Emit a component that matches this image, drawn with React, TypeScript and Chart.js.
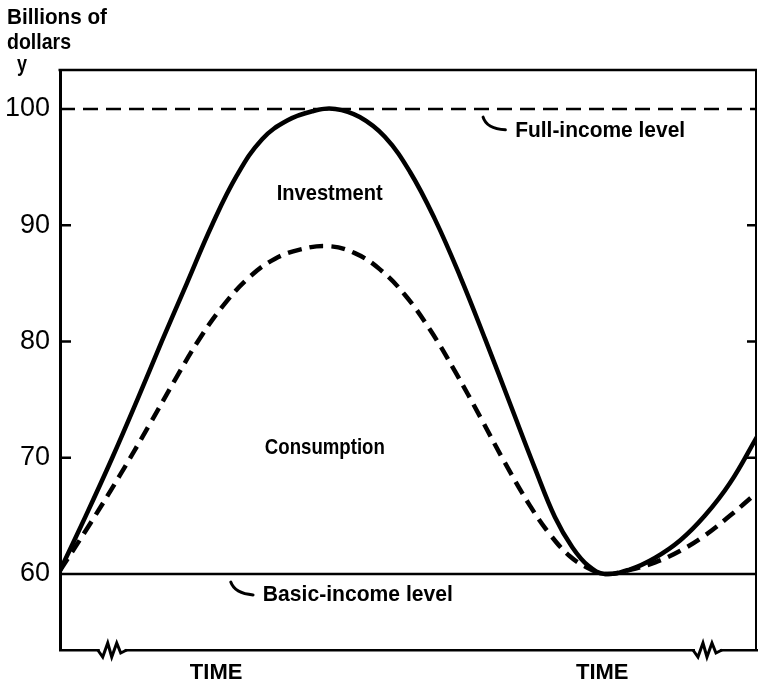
import React, { useEffect, useRef } from 'react';
import { Chart, registerables } from 'chart.js';

Chart.register(...registerables);

// ---- data ----
const incomeTime = [0, 3.7, 7.5, 11.1, 14.6, 18.2, 21.8, 25.4, 29.0, 32.6, 36.2, 39.5, 43.0, 46.6, 50.2, 53.8, 57.4, 61.0, 64.6, 68.2, 71.0, 73.5, 75.8, 78.2, 81.8, 85.4, 89.0, 92.5, 96.1, 100];
const incomeValues = [60.3, 65.0, 70.0, 75.0, 80.0, 85.0, 90.0, 94.3, 97.4, 99.0, 99.8, 100.0, 99.3, 97.6, 94.6, 90.5, 85.6, 80.2, 74.6, 69.0, 64.9, 62.3, 60.7, 60.0, 60.4, 61.4, 62.9, 65.0, 67.8, 71.8];

const consumptionTime = [0, 4.3, 8.6, 12.9, 16.5, 20.1, 23.7, 27.3, 30.8, 34.4, 38.5, 42.3, 45.9, 49.5, 53.1, 56.7, 60.3, 63.8, 67.4, 70.3, 73.2, 75.8, 78.2, 81.8, 85.4, 89.0, 92.5, 96.1, 100];
const consumptionValues = [60.3, 64.3, 68.5, 72.9, 76.7, 80.3, 83.3, 85.6, 87.1, 87.9, 88.2, 87.6, 86.2, 84.0, 81.0, 77.4, 73.5, 69.6, 65.9, 63.4, 61.5, 60.5, 60.0, 60.35, 61.0, 62.0, 63.3, 65.0, 67.0];

const yTickValues = [60, 70, 80, 90, 100];
const timeTickValues = [22.4, 77.8];
const timeTickLabel = 'TIME';
const fullIncomeLevel = 100;
const basicIncomeLevel = 60;
const timeMin = 0;
const timeMax = 100;
const yMin = 53.46;
const yMax = 103.35;
const breakTimes = [5.7, 91.1];

const FONT = '"Liberation Sans", Arial, sans-serif';

function fitText(ctx: CanvasRenderingContext2D, text: string, x: number, y: number, width: number, size: number, align: CanvasTextAlign, baseline: CanvasTextBaseline) {
  ctx.save();
  ctx.font = `bold ${size}px ${FONT}`;
  const w = ctx.measureText(text).width;
  const s = width / w;
  ctx.translate(x, y);
  ctx.scale(s, 1);
  ctx.textAlign = align;
  ctx.textBaseline = baseline;
  ctx.fillStyle = '#000';
  ctx.fillText(text, 0, 0);
  ctx.restore();
}

export default function App() {
  const ref = useRef<HTMLCanvasElement>(null);

  useEffect(() => {
    if (!ref.current) return;

    const decor = {
      id: 'decor',
      afterDraw(chart: any) {
        const { ctx, chartArea, scales } = chart;
        const { left, right, top, bottom } = chartArea;
        const x = scales.x;
        const y = scales.y;
        ctx.save();
        ctx.strokeStyle = '#000';
        ctx.lineCap = 'butt';

        // top border
        ctx.lineWidth = 2.5;
        ctx.beginPath();
        ctx.moveTo(left - 1.5, top);
        ctx.lineTo(right, top);
        ctx.stroke();
        // right border
        ctx.lineWidth = 2;
        ctx.beginPath();
        ctx.moveTo(right - 1, top);
        ctx.lineTo(right - 1, bottom);
        ctx.stroke();

        // inward ticks
        ctx.lineWidth = 2.5;
        [70, 80, 90].forEach((v) => {
          const py = y.getPixelForValue(v);
          ctx.beginPath();
          ctx.moveTo(left, py);
          ctx.lineTo(left + 11, py);
          ctx.moveTo(right - 1, py);
          ctx.lineTo(right - 10, py);
          ctx.stroke();
        });

        // axis breaks
        breakTimes.forEach((t) => {
          const px = x.getPixelForValue(t);
          ctx.fillStyle = '#fff';
          ctx.fillRect(px, bottom - 2, 25, 4);
          ctx.lineWidth = 3;
          ctx.lineJoin = 'miter';
          ctx.beginPath();
          ctx.moveTo(px - 2, bottom);
          ctx.lineTo(px + 3, bottom + 7);
          ctx.lineTo(px + 8, bottom - 7);
          ctx.lineTo(px + 12, bottom + 7);
          ctx.lineTo(px + 17, bottom - 7);
          ctx.lineTo(px + 21, bottom + 3);
          ctx.lineTo(px + 27, bottom);
          ctx.stroke();
        });

        // hooks
        ctx.lineWidth = 3;
        ctx.lineCap = 'round';
        const hook = (t0: number, v0: number, tc: number, vc: number, t1: number, v1: number) => {
          ctx.beginPath();
          ctx.moveTo(x.getPixelForValue(t0), y.getPixelForValue(v0));
          ctx.quadraticCurveTo(x.getPixelForValue(tc), y.getPixelForValue(vc), x.getPixelForValue(t1), y.getPixelForValue(v1));
          ctx.stroke();
        };
        hook(60.7, 99.3, 61.2, 98.3, 63.9, 98.2);
        hook(24.5, 59.3, 25.1, 58.3, 27.7, 58.2);

        // labels in chart
        fitText(ctx, 'Investment', x.getPixelForValue(38.7), y.getPixelForValue(92.7), 106, 22, 'center', 'middle');
        fitText(ctx, 'Consumption', x.getPixelForValue(38.0), y.getPixelForValue(70.8), 120, 22, 'center', 'middle');
        fitText(ctx, 'Full-income level', x.getPixelForValue(65.3), y.getPixelForValue(98.1), 170, 22, 'left', 'middle');
        fitText(ctx, 'Basic-income level', x.getPixelForValue(29.1), y.getPixelForValue(58.2), 190, 22, 'left', 'middle');

        // axis title
        fitText(ctx, 'Billions of', 7, 24, 100, 22, 'left', 'alphabetic');
        fitText(ctx, 'dollars', 7, 49, 64, 22, 'left', 'alphabetic');
        fitText(ctx, 'y', 17, 71, 10, 22, 'left', 'alphabetic');
        ctx.restore();
      },
    };

    const toPoints = (xs: number[], ys: number[]) => xs.map((t, i) => ({ x: t, y: ys[i] }));

    const chart = new Chart(ref.current, {
      type: 'line',
      data: {
        datasets: [
          {
            label: 'Full-income level',
            data: [{ x: timeMin, y: fullIncomeLevel }, { x: timeMax, y: fullIncomeLevel }],
            borderColor: '#000',
            borderWidth: 2.5,
            borderDash: [15, 8],
            pointRadius: 0,
            fill: false,
          },
          {
            label: 'Basic-income level',
            data: [{ x: timeMin, y: basicIncomeLevel }, { x: timeMax, y: basicIncomeLevel }],
            borderColor: '#000',
            borderWidth: 2.5,
            pointRadius: 0,
            fill: false,
          },
          {
            label: 'Consumption',
            data: toPoints(consumptionTime, consumptionValues),
            borderColor: '#000',
            borderWidth: 4.5,
            borderDash: [14, 8],
            pointRadius: 0,
            tension: 0.4,
            fill: false,
          },
          {
            label: 'Income',
            data: toPoints(incomeTime, incomeValues),
            borderColor: '#000',
            borderWidth: 4.5,
            pointRadius: 0,
            tension: 0.4,
            fill: false,
          },
        ],
      },
      options: {
        animation: false,
        responsive: false,
        devicePixelRatio: 1,
        layout: { padding: { top: 70, right: 1, left: 0, bottom: 0 } },
        plugins: { legend: { display: false }, tooltip: { enabled: false }, title: { display: false } },
        scales: {
          x: {
            type: 'linear',
            min: timeMin,
            max: timeMax,
            grid: { display: false, drawTicks: false },
            border: { display: true, color: '#000', width: 2.5 },
            afterBuildTicks: (scale: any) => {
              scale.ticks = timeTickValues.map((v) => ({ value: v }));
            },
            afterFit: (scale: any) => {
              scale.height = 33;
            },
            ticks: {
              autoSkip: false,
              maxRotation: 0,
              padding: 10,
              color: '#000',
              font: { family: FONT, size: 22, weight: 'bold' },
              callback: () => timeTickLabel,
            },
          },
          y: {
            type: 'linear',
            min: yMin,
            max: yMax,
            grid: { display: false, drawTicks: false },
            border: { display: true, color: '#000', width: 3 },
            afterBuildTicks: (scale: any) => {
              scale.ticks = yTickValues.map((v) => ({ value: v }));
            },
            afterFit: (scale: any) => {
              scale.width = 60;
            },
            ticks: {
              padding: 10,
              color: '#000',
              font: { family: FONT, size: 27 },
              callback: (v: any) => String(v),
            },
          },
        },
      },
      plugins: [decor],
    } as any);

    return () => chart.destroy();
  }, []);

  return (
    <canvas
      ref={ref}
      width={758}
      height={683}
      style={{ position: 'fixed', left: 0, top: 0, background: '#fff' }}
    />
  );
}
